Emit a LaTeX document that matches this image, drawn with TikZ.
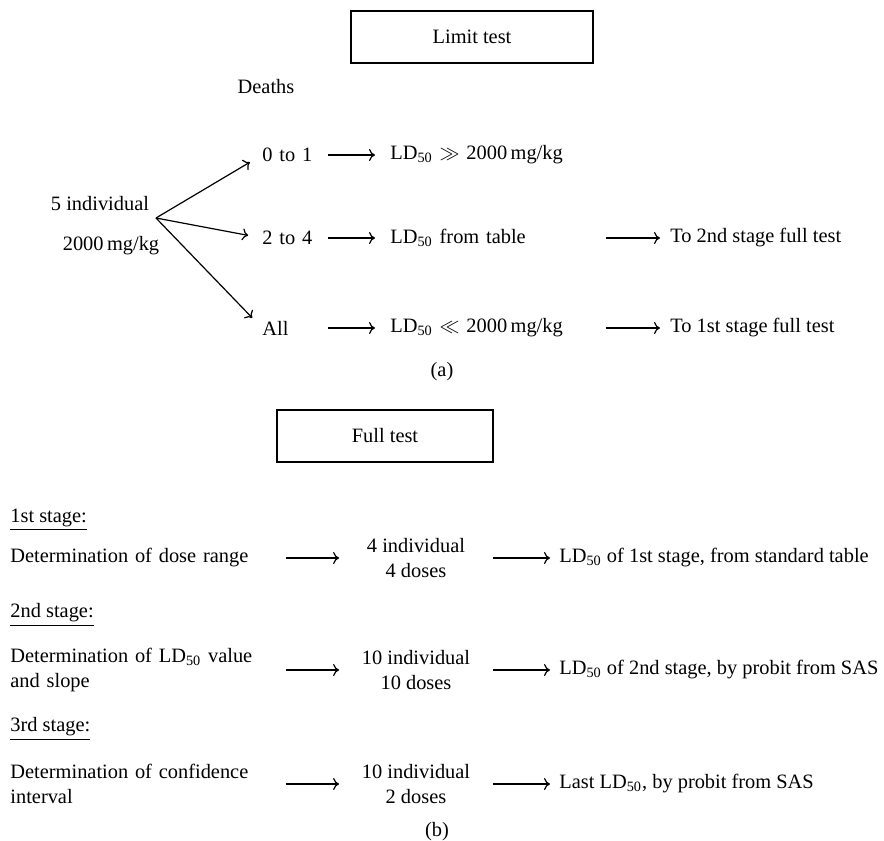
\documentclass[tikz,border=0pt]{standalone}
\usepackage{fontspec}
\setmainfont{Liberation Serif}
\usetikzlibrary{arrows.meta}

\tikzset{
	lbl/.style={inner sep=0pt},
	titlebox/.style={draw, line width=0.6pt, inner sep=0pt, minimum height=26pt},
	arr/.style={line width=0.6pt, -{To[length=3pt,width=6pt]}},
}

\begin{document}
\begin{tikzpicture}[x=0.5pt, y=-0.5pt, font=\fontsize{10.2}{12.5}\selectfont]
	\useasboundingbox (0,0) rectangle (884,841);

	% (a) limit test
	\node[titlebox, minimum width=121pt] (limit) at (472,37) {Limit test};
	\node[lbl] (deaths) at (266,87) {Deaths};
	\node[lbl] (five) at (100,204) {5 individual};
	\node[lbl] (dosea) at (111,246) {2000\,mg/kg};
	\coordinate (j) at (156,218);

	\node[lbl, anchor=west, text width=32.5pt] (d01) at (262,155) {0 to 1};
	\node[lbl, anchor=west, text width=32.5pt] (d24) at (262,238) {2 to 4};
	\node[lbl, anchor=west, text width=32.5pt] (dall) at (262,328) {All};

	\node[lbl, anchor=west, text width=107.5pt] (r01) at (390,155) {LD\textsubscript{50} $\gg$ 2000\,mg/kg};
	\node[lbl, anchor=west, text width=107.5pt] (r24) at (390,238) {LD\textsubscript{50} from table};
	\node[lbl, anchor=west, text width=107.5pt] (rall) at (390,328) {LD\textsubscript{50} $\ll$ 2000\,mg/kg};

	\node[lbl, anchor=west] (n24) at (670,238) {To 2nd stage full test};
	\node[lbl, anchor=west] (nall) at (670,328) {To 1st stage full test};

	\node[lbl] (capa) at (442,372) {(a)};

	\draw[arr, shorten >=7pt] (j) -- (d01.west);
	\draw[arr, shorten >=7pt] (j) -- (d24.west);
	\draw[arr, shorten >=7pt] (j) -- (dall.west);
	\draw[arr, shorten >=7.5pt] (d01) -- (r01);
	\draw[arr, shorten >=7.5pt] (d24) -- (r24);
	\draw[arr, shorten >=7.5pt] (dall) -- (rall);
	\draw[arr, shorten >=5pt] (r24) -- (n24);
	\draw[arr, shorten >=5pt] (rall) -- (nall);

	% (b) full test
	\node[titlebox, minimum width=108pt] (full) at (385,436) {Full test};

	\node[lbl, anchor=west] (st1) at (10,520) {\underline{1st stage:}};
	\node[lbl, anchor=west, text width=137.5pt, align=left] (det1) at (10,558) {Determination of dose range};
	\node[lbl, align=center, minimum width=76.5pt] (grp1) at (416,558) {4 individual\\4 doses};
	\node[lbl, anchor=west] (res1) at (559,558) {LD\textsubscript{50} of 1st stage, from standard table};

	\node[lbl, anchor=west] (st2) at (10,615) {\underline{2nd stage:}};
	\node[lbl, anchor=west, text width=137.5pt, align=left] (det2) at (10,670) {Determination of LD\textsubscript{50} value\\and slope};
	\node[lbl, align=center, minimum width=76.5pt] (grp2) at (416,670) {10 individual\\10 doses};
	\node[lbl, anchor=west] (res2) at (559,670) {LD\textsubscript{50} of 2nd stage, by probit from SAS};

	\node[lbl, anchor=west] (st3) at (10,729) {\underline{3rd stage:}};
	\node[lbl, anchor=west, text width=137.5pt, align=left] (det3) at (10,784) {Determination of confidence\\interval};
	\node[lbl, align=center, minimum width=76.5pt] (grp3) at (416,784) {10 individual\\2 doses};
	\node[lbl, anchor=west] (res3) at (559,784) {Last LD\textsubscript{50}, by probit from SAS};

	\node[lbl] (capb) at (437,832) {(b)};

	\draw[arr] (det1) -- (grp1);
	\draw[arr, shorten >=4.5pt] (grp1) -- (res1);
	\draw[arr] (det2) -- (grp2);
	\draw[arr, shorten >=4.5pt] (grp2) -- (res2);
	\draw[arr] (det3) -- (grp3);
	\draw[arr, shorten >=4.5pt] (grp3) -- (res3);
\end{tikzpicture}
\end{document}
